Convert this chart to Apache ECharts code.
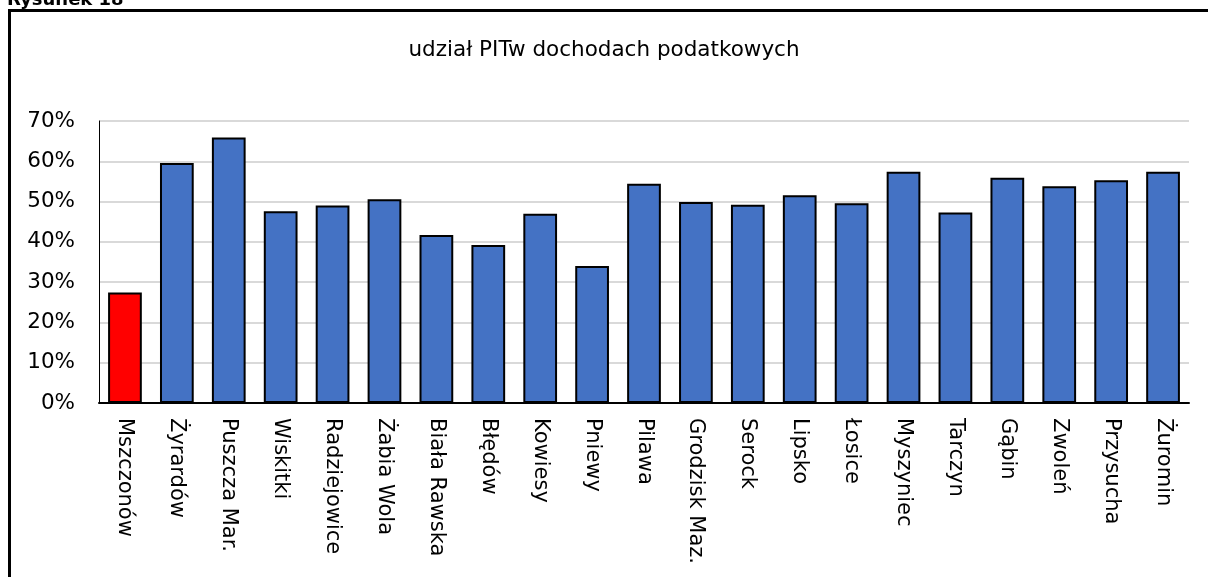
<!DOCTYPE html>
<html>
<head>
<meta charset="utf-8">
<script src="https://cdn.jsdelivr.net/npm/echarts@6/dist/echarts.min.js"></script>
<style>
html,body{margin:0;padding:0;background:#fff;}
#c{width:1208px;height:577px;}
</style>
</head>
<body>
<div id="c"></div>
<script>
const categories = ["Mszczonów","Żyrardów","Puszcza Mar.","Wiskitki","Radziejowice","Żabia Wola","Biała Rawska","Błędów","Kowiesy","Pniewy","Pilawa","Grodzisk Maz.","Serock","Lipsko","Łosice","Myszyniec","Tarczyn","Gąbin","Zwoleń","Przysucha","Żuromin"];
const values = [27.4,59.6,65.9,47.6,49.0,50.6,41.7,39.2,47.0,34.0,54.4,49.9,49.2,51.6,49.6,57.4,47.3,55.9,53.8,55.3,57.4];
const highlighted = ["Mszczonów"];
const yTicks = [0,10,20,30,40,50,60,70];
const titleText = "udział PITw dochodach podatkowych";
const figureLabel = "Rysunek 18";

const chart = echarts.init(document.getElementById('c'));
const font = "DejaVu Sans, Verdana, sans-serif";
chart.setOption({
  animation:false,
  backgroundColor:'#fff',
  title:{text:titleText,left:'center',top:34,textStyle:{fontFamily:font,fontSize:21.5,fontWeight:'normal',color:'#000'}},
  graphic:[
    {type:'text',x:7,y:9,style:{text:figureLabel,font:"bold 18px "+font,fill:'#000',verticalAlign:'bottom'}},
    {type:'rect',shape:{x:9.5,y:10.5,width:1300,height:700},style:{fill:'none',stroke:'#000',lineWidth:3}}
  ],
  grid:{left:99,right:19,top:121,bottom:174,containLabel:false},
  xAxis:{type:'category',data:categories,
    axisLine:{lineStyle:{color:'#000',width:2}},
    axisTick:{show:false},
    axisLabel:{rotate:-90,interval:0,margin:15,fontFamily:font,fontSize:21,color:'#000',align:'left',verticalAlign:'middle'}},
  yAxis:{type:'value',min:0,max:70,interval:10,
    axisLine:{show:true,lineStyle:{color:'#000',width:1}},
    axisTick:{show:false},
    splitLine:{lineStyle:{color:'#d9d9d9',width:2}},
    axisLabel:{margin:24,fontFamily:font,fontSize:21.5,color:'#000',formatter:v=>yTicks.includes(v)?v+'%':''}},
  series:[{type:'bar',barCategoryGap:'35%',
    data:values.map((v,i)=>({value:v,itemStyle:{color:highlighted.includes(categories[i])?'#ff0000':'#4472c4'}})),
    itemStyle:{borderColor:'#000',borderWidth:2}}]
});
</script>
</body>
</html>
